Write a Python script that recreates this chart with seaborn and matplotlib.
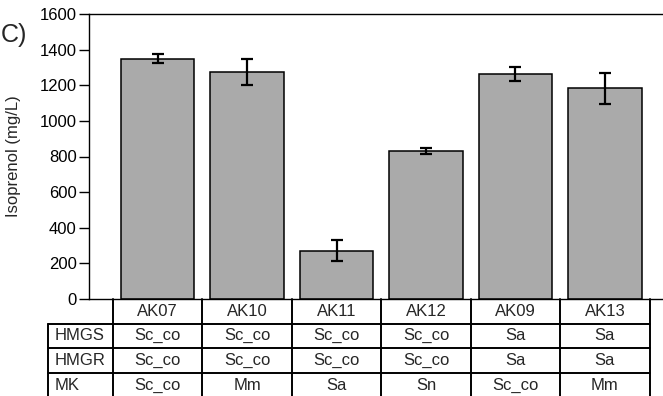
import matplotlib
matplotlib.use("Agg")
import matplotlib.pyplot as plt
import seaborn as sns
import pandas as pd
from matplotlib.lines import Line2D
from matplotlib.transforms import blended_transform_factory

# ---- data ----
strains = ["AK07", "AK10", "AK11", "AK12", "AK09", "AK13"]
isoprenol = [1350, 1277, 272, 831, 1264, 1183]
isoprenol_err = [25, 73, 58, 17, 39, 87]
row_labels = ["HMGS", "HMGR", "MK"]
hmgs = ["Sc_co", "Sc_co", "Sc_co", "Sc_co", "Sa", "Sa"]
hmgr = ["Sc_co", "Sc_co", "Sc_co", "Sc_co", "Sa", "Sa"]
mk = ["Sc_co", "Mm", "Sa", "Sn", "Sc_co", "Mm"]
yticks = [0, 200, 400, 600, 800, 1000, 1200, 1400, 1600]

sns.set_style("ticks")
plt.rcParams["font.family"] = ["Liberation Sans", "DejaVu Sans"]

W, H = 663, 396
fig = plt.figure(figsize=(W / 100, H / 100), dpi=100)

def fx(px):
    return px / W

def fy(py):
    return 1 - py / H

ax_left, ax_right, ax_top, ax_bot = 89, 664, 14, 299
ax = fig.add_axes([fx(ax_left), fy(ax_bot), fx(ax_right - ax_left), (ax_bot - ax_top) / H])

df = pd.DataFrame({"strain": strains, "val": isoprenol})
sns.barplot(data=df, x="strain", y="val", order=strains, color="#AAAAAA",
            edgecolor="black", linewidth=1.1, width=0.82, errorbar=None,
            saturation=1, ax=ax)
ax.errorbar(range(len(strains)), isoprenol, yerr=isoprenol_err, fmt="none",
            ecolor="black", elinewidth=1.6, capsize=4, capthick=1.6, zorder=5)

ax.set_ylim(0, 1600)
ax.set_xlim(-0.767, 5.66)
ax.set_yticks(yticks)
ax.set_yticklabels([str(v) for v in yticks], fontsize=12)
ax.tick_params(axis="y", direction="out", length=7, width=1, pad=2, colors="black")
ax.set_xticks([])
ax.set_xlabel("")
ax.set_ylabel("Isoprenol (mg/L)", fontsize=12)
ax.yaxis.set_label_coords((21 - ax_left) / (ax_right - ax_left), 0.5)
for s in ["left", "top", "bottom", "right"]:
    ax.spines[s].set_visible(True)
    ax.spines[s].set_color("black")
    ax.spines[s].set_linewidth(1.0)

# ---- table below the axis ----
tr = blended_transform_factory(ax.transData, fig.transFigure)
lw = 1.4
row_lines = [299, 323.5, 348, 373, 397.5]
n = len(strains)
lab_left = -1.226
# horizontal lines
for yl in row_lines[1:]:
    fig.add_artist(Line2D([lab_left, n - 0.5], [fy(yl), fy(yl)], transform=tr,
                          color="black", lw=lw, clip_on=False))
# vertical lines for data columns
for k in range(n + 1):
    xk = k - 0.5
    fig.add_artist(Line2D([xk, xk], [fy(row_lines[0]), fy(row_lines[-1])], transform=tr,
                          color="black", lw=lw, clip_on=False))
# label column left border
fig.add_artist(Line2D([lab_left, lab_left], [fy(row_lines[1]), fy(row_lines[-1])],
                      transform=tr, color="black", lw=lw, clip_on=False))

rows = [strains, hmgs, hmgr, mk]
for r, vals in enumerate(rows):
    yc = (row_lines[r] + row_lines[r + 1]) / 2
    for k, v in enumerate(vals):
        fig.text(k, fy(yc), v, transform=tr, ha="center", va="center", fontsize=12)
for r, lab in enumerate(row_labels):
    yc = (row_lines[r + 1] + row_lines[r + 2]) / 2
    fig.text(lab_left + 0.08, fy(yc), lab, transform=tr, ha="left", va="center", fontsize=12)

fig.text(fx(0.5), fy(35), "C)", fontsize=18, ha="left", va="center")

fig.savefig("out.png", dpi=100)
